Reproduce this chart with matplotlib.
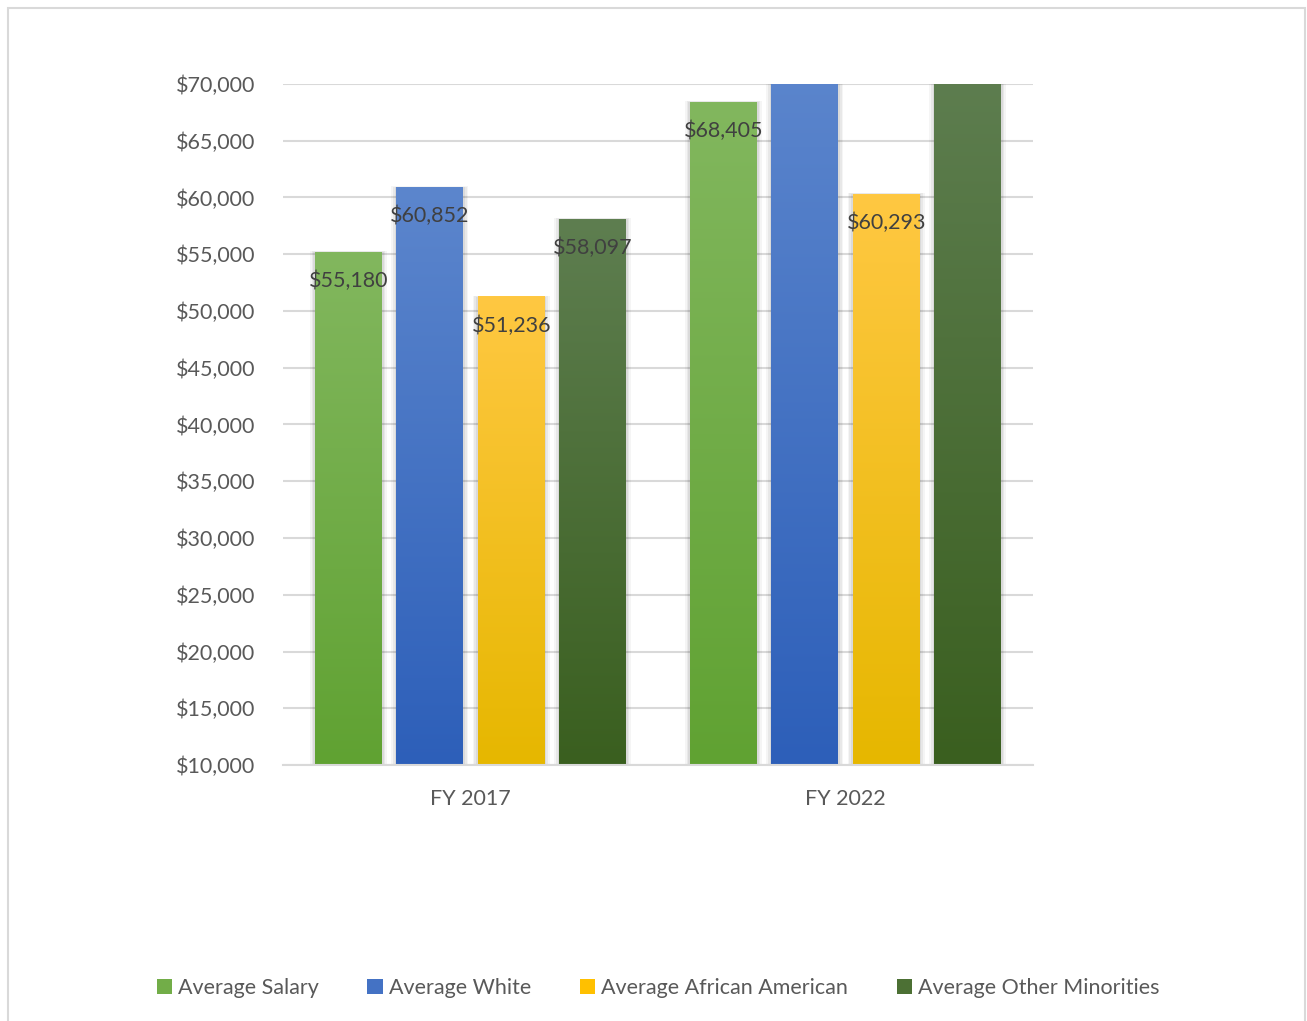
import numpy as np
import matplotlib
matplotlib.use('Agg')
import matplotlib.pyplot as plt
from matplotlib.patches import Rectangle, Patch
from matplotlib.colors import LinearSegmentedColormap
from matplotlib.ticker import FuncFormatter

# данные
years = ['FY 2017', 'FY 2022']
series = ['Average Salary', 'Average White', 'Average African American', 'Average Other Minorities']
avg_salary = [55180, 68405]
avg_white = [60852, 72400]
avg_african_american = [51236, 60293]
avg_other_minorities = [58097, 71600]
values = [avg_salary, avg_white, avg_african_american, avg_other_minorities]

# цвета градиента: верх -> низ
grad = [('#82b75e', '#60a232'),
        ('#5c86cd', '#2d5fb9'),
        ('#ffc842', '#e6b700'),
        ('#5e7e50', '#3a5f1f')]

plt.rcParams['font.family'] = ['Lato', 'DejaVu Sans']
fs = 15.5

fig = plt.figure(figsize=(13.07, 10.21), dpi=100)
ax = fig.add_axes([283 / 1307, 1 - 765 / 1021, 750 / 1307, 681 / 1021])

ymin, ymax = 10000, 70000
width = 0.178
step = 0.217
x = np.arange(len(years))

for i, (vals, (top, bottom)) in enumerate(zip(values, grad)):
    cmap = LinearSegmentedColormap.from_list('g%d' % i, [bottom, top])
    pos = x + (i - 1.5) * step
    for xp, v in zip(pos, vals):
        vis = min(v, ymax)
        # мягкая тень
        for k, a in enumerate([0.04, 0.05, 0.06]):
            d = (3 - k) * 0.0045
            ax.add_patch(Rectangle((xp - width / 2 - d, ymin), width + 2 * d, vis - ymin + d * 9000,
                                   facecolor='black', alpha=a, lw=0, zorder=2))
        # градиент по высоте столбца, видимая часть до ymax
        g = np.linspace(0, (vis - ymin) / (v - ymin), 256).reshape(-1, 1)
        ax.imshow(g, cmap=cmap, vmin=0, vmax=1, origin='lower', aspect='auto', zorder=3,
                  extent=[xp - width / 2, xp + width / 2, ymin, vis], interpolation='bilinear')
        if v <= ymax:
            ax.annotate('${:,.0f}'.format(v), (xp, v), xytext=(0, -20.5), textcoords='offset points',
                        ha='center', va='center', fontsize=fs, color='#404040', zorder=5)

ax.set_xlim(-0.5, 1.5)
ax.set_ylim(ymin, ymax)

ax.set_yticks(np.arange(10000, 70001, 5000))
ax.yaxis.set_major_formatter(FuncFormatter(lambda v, p: '${:,.0f}'.format(v)))
ax.set_xticks(x)
ax.set_xticklabels(years)
ax.tick_params(axis='y', length=0, pad=20, labelsize=fs, labelcolor='#595959')
ax.tick_params(axis='x', length=0, pad=17, labelsize=fs, labelcolor='#595959')
ax.grid(axis='y', color='#d9d9d9', lw=1.5, zorder=1)
ax.set_axisbelow(True)
for s in ['left', 'right', 'top']:
    ax.spines[s].set_visible(False)
ax.spines['bottom'].set_color('#d9d9d9')
ax.spines['bottom'].set_linewidth(1.5)
ax.spines['bottom'].set_zorder(4)

handles = [Patch(facecolor=c, edgecolor='none') for c in ['#72ad48', '#4472c4', '#ffc000', '#4c7034']]
fig.legend(handles, series, loc='center', bbox_to_anchor=(0.5035, 1 - 988 / 1021), ncol=4,
           frameon=False, fontsize=fs, labelcolor='#595959', handlelength=0.7, handleheight=0.7,
           handletextpad=0.3, columnspacing=2.25)

# рамка диаграммы
fig.patches.append(Rectangle((8 / 1307, -0.05), 1297 / 1307, 1.05 - 8 / 1021, transform=fig.transFigure,
                             facecolor='none', edgecolor='#d9d9d9', lw=1.5))

fig.savefig('out.png', dpi=100)
